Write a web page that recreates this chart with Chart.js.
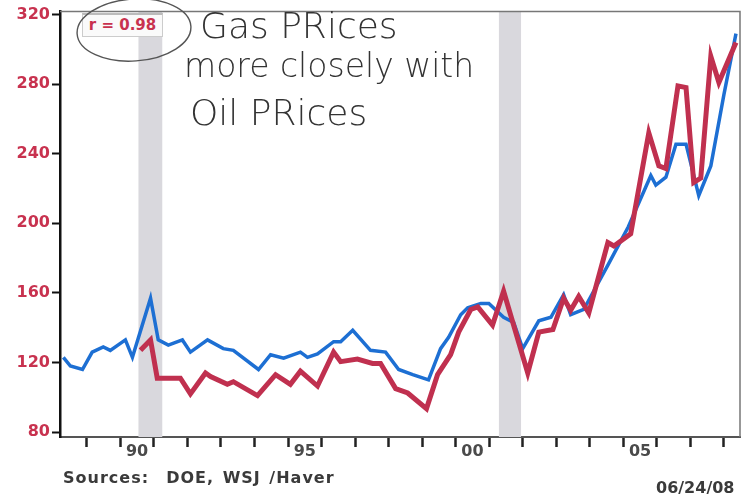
<!DOCTYPE html>
<html>
<head>
<meta charset="utf-8">
<script src="https://cdn.jsdelivr.net/npm/chart.js@4"></script>
<style>
  body { margin: 0; background: #fff; }
  #wrap { position: relative; width: 743px; height: 500px; }
  canvas { position: absolute; left: 0; top: 0; }
  .note { position: absolute; font-family: "DejaVu Sans", sans-serif; font-weight: bold; color: #3a3a3a; font-size: 16px; white-space: nowrap; }
  .hand { position: absolute; font-family: "DejaVu Sans", sans-serif; font-weight: 200; color: #333; white-space: nowrap; }
  #rbox { position: absolute; left: 82px; top: 13px; width: 79px; height: 21px; border: 1px solid #ccc; border-top: 2px solid #bbb; background: #fafafa;
          font-family: "DejaVu Sans", sans-serif; font-weight: bold; font-size: 15px; color: #c8324f; text-align: center; line-height: 21px; }
</style>
</head>
<body>
<div id="wrap">
  <canvas id="gas-oil" width="743" height="500"></canvas>
  <div id="rbox">r = 0.98</div>
  <svg style="position:absolute;left:0;top:0" width="743" height="500">
    <ellipse cx="134" cy="30" rx="57" ry="31" fill="none" stroke="#555" stroke-width="1.4" transform="rotate(-4 134 30)"/>
  </svg>
  <div class="hand" style="left:200px;top:5px;font-size:36px;">Gas PRices</div>
  <div class="hand" style="left:184px;top:46px;font-size:33px;">more closely with</div>
  <div class="hand" style="left:190px;top:92px;font-size:36px;">Oil PRices</div>
  <div class="note" style="left:63px;top:468px;letter-spacing:1px;word-spacing:2px;">Sources:&nbsp; DOE, WSJ /Haver</div>
  <div class="note" style="left:656px;top:478px;">06/24/08</div>
</div>
<script>
// gasoline (blue) - year, value
const gasYears = [1988.30, 1988.51, 1988.87, 1989.16, 1989.49, 1989.70, 1990.15, 1990.36, 1990.90, 1991.13,
  1991.43, 1991.85, 1992.09, 1992.60, 1993.07, 1993.37, 1994.12, 1994.48, 1994.87, 1995.37,
  1995.58, 1995.88, 1996.36, 1996.57, 1996.93, 1997.46, 1997.91, 1998.30, 1998.72, 1999.19,
  1999.55, 1999.79, 2000.15, 2000.36, 2000.75, 2000.99, 2001.43, 2001.73, 2002.00, 2002.48,
  2002.84, 2003.22, 2003.43, 2003.82, 2004.54, 2005.15, 2005.82, 2005.97, 2006.27, 2006.57,
  2006.87, 2007.25, 2007.61, 2008.00, 2008.36];
const gasValues = [123, 118, 116, 126, 129, 127, 133, 123, 157, 133,
  130, 133, 126, 133, 128, 127, 116, 124.5, 122.5, 126,
  123, 125, 132, 132, 138.5, 127, 126, 116, 113, 110,
  128, 134.5, 147.5, 151.5, 154, 154, 146, 143, 128, 144,
  146, 159, 147.5, 150.5, 176, 198, 227.5, 222, 226.5, 245.5,
  245.5, 216, 233, 274, 309];

// crude oil, scaled (red)
const oilYears = [1990.60, 1990.90, 1991.10, 1991.34, 1991.79, 1992.09, 1992.54, 1992.69, 1993.19, 1993.37,
  1994.09, 1994.63, 1995.07, 1995.37, 1995.88, 1996.36, 1996.57, 1997.07, 1997.52, 1997.76,
  1998.21, 1998.57, 1999.13, 1999.46, 1999.85, 2000.09, 2000.45, 2000.66, 2001.10, 2001.43,
  2002.15, 2002.48, 2002.90, 2003.22, 2003.43, 2003.67, 2003.97, 2004.54, 2004.72, 2005.22,
  2005.76, 2006.06, 2006.27, 2006.63, 2006.87, 2007.10, 2007.31, 2007.61, 2007.85, 2008.36];
const oilValues = [127, 133, 111, 111, 111, 102, 114, 112, 107.5, 109,
  101, 113, 107.5, 115, 106.5, 126, 120.5, 122, 119.5, 119.5,
  105, 102.5, 93.5, 113, 124.5, 137.5, 150.5, 152, 141.5, 161,
  114, 137.5, 139, 157, 150, 158, 148.5, 189, 187, 194,
  252, 233, 231.5, 279, 278, 223.5, 226, 296, 281, 304];

// recessions (shaded)
const recessionStart = [1990.54, 2001.29];
const recessionEnd = [1991.25, 2001.95];

const yTicks = [80, 120, 160, 200, 240, 280, 320];
const labelYears = [1990, 1995, 2000, 2005];

const toPoints = (xs, ys) => xs.map((x, i) => ({ x: x, y: ys[i] }));

const recessionBars = {
    id: 'recessionBars',
    beforeDatasetsDraw(chart) {
        const { ctx, chartArea, scales } = chart;
        ctx.save();
        ctx.fillStyle = '#d9d8dd';
        for (let i = 0; i < recessionStart.length; i++) {
            const x0 = scales.x.getPixelForValue(recessionStart[i]);
            const x1 = scales.x.getPixelForValue(recessionEnd[i]);
            ctx.fillRect(x0, chartArea.top, x1 - x0, chartArea.bottom - chartArea.top);
        }
        ctx.restore();
    },
    afterDraw(chart) {
        const { ctx, chartArea } = chart;
        ctx.save();
        ctx.strokeStyle = '#777';
        ctx.lineWidth = 1.5;
        ctx.beginPath();
        ctx.moveTo(chartArea.left, chartArea.top);
        ctx.lineTo(chartArea.right, chartArea.top);
        ctx.lineTo(chartArea.right, chartArea.bottom);
        ctx.stroke();
        ctx.restore();
    }
};

new Chart(document.getElementById('gas-oil'), {
    type: 'line',
    data: {
        datasets: [{
            label: 'Oil',
            data: toPoints(oilYears, oilValues),
            borderColor: '#c0304f',
            borderWidth: 5,
            pointRadius: 0,
            tension: 0
        }, {
            label: 'Gasoline',
            data: toPoints(gasYears, gasValues),
            borderColor: '#1d6fd3',
            borderWidth: 3.5,
            pointRadius: 0,
            tension: 0
        }]
    },
    plugins: [recessionBars],
    options: {
        responsive: false,
        animation: false,
        layout: { padding: { top: 3, right: 3, left: 0, bottom: 0 } },
        plugins: { legend: { display: false }, tooltip: { enabled: false } },
        scales: {
            x: {
                type: 'linear',
                min: 1988.2,
                max: 2008.48,
                afterBuildTicks: (scale) => {
                    const t = [];
                    for (let v = 1988.5; v <= 2008.5; v += 0.5) t.push({ value: v });
                    scale.ticks = t;
                },
                afterFit: (scale) => { scale.height = 63; },
                border: { color: '#555', width: 2 },
                grid: {
                    drawOnChartArea: false,
                    tickLength: 10,
                    tickWidth: 2.5,
                    tickColor: (c) => Number.isInteger(c.tick.value) ? '#222' : 'rgba(0,0,0,0)'
                },
                ticks: {
                    autoSkip: false,
                    maxRotation: 0,
                    padding: -5,
                    color: '#4a4a4a',
                    font: { family: 'DejaVu Sans', size: 16, weight: 'bold' },
                    callback: (v) => {
                        const y = Math.floor(v);
                        if (v - y === 0.5 && labelYears.includes(y)) return String(y % 100).padStart(2, '0');
                        return '';
                    }
                }
            },
            y: {
                min: 77.2,
                max: 321.7,
                afterBuildTicks: (scale) => { scale.ticks = yTicks.map(v => ({ value: v })); },
                afterFit: (scale) => { scale.width = 60; },
                border: { color: '#111', width: 2.5 },
                grid: { drawOnChartArea: false, tickLength: 8, tickWidth: 2, tickColor: '#111' },
                ticks: {
                    padding: 2,
                    color: '#c8324f',
                    font: { family: 'DejaVu Sans', size: 16, weight: 'bold' }
                }
            }
        }
    }
});
</script>
</body>
</html>
